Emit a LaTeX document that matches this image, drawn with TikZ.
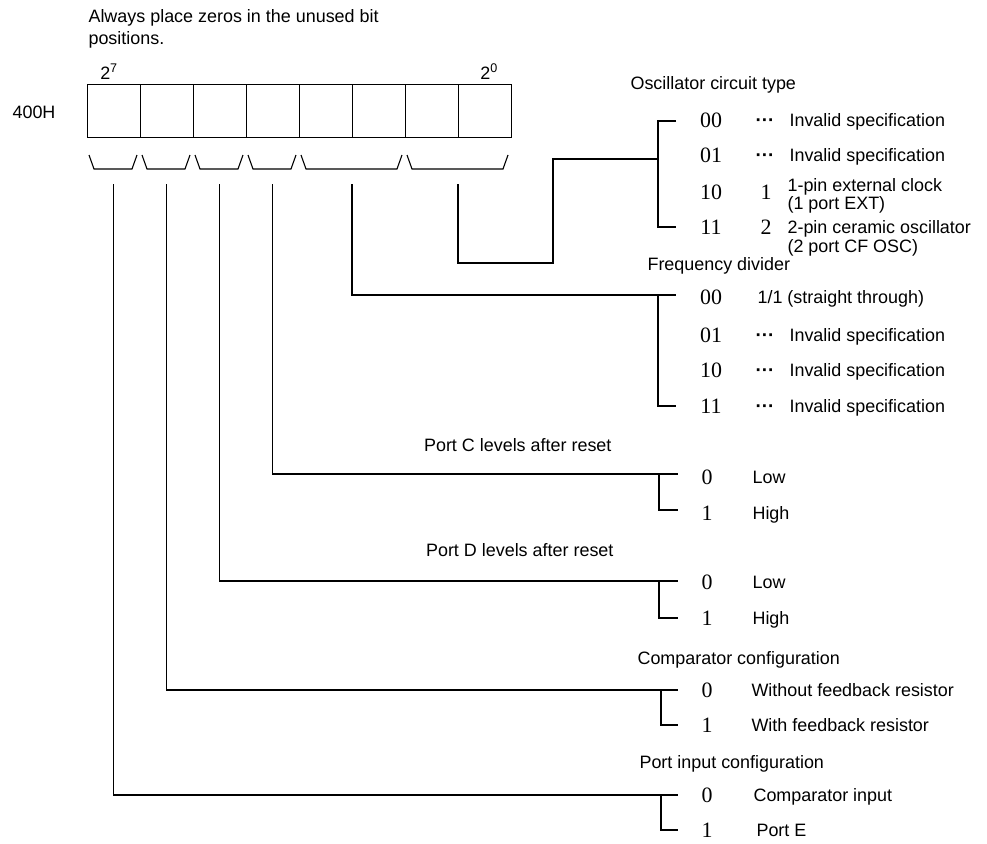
\documentclass[tikz,border=0pt]{standalone}
\usepackage{fontspec}
\setmainfont{Liberation Sans}
\newfontfamily\digf{Liberation Serif}
\usetikzlibrary{calc}
\begin{document}
\begin{tikzpicture}[x=1bp,y=-1bp, line width=1.1bp,
  txt/.style={inner sep=0pt, anchor=base west, font=\fontsize{18}{20}\selectfont},
  dig/.style={inner sep=0pt, anchor=base, font=\digf\fontsize{22}{24}\selectfont},
  dots/.style={inner sep=0pt, anchor=base, font=\bfseries\fontsize{19}{20}\selectfont},
  cell/.style={draw, minimum width=53bp, minimum height=53bp, inner sep=0pt, anchor=north west}]
\useasboundingbox (0,0) rectangle (987,844);

% heading text
\node[txt] (note1) at (88,22) {Always place zeros in the unused bit};
\node[txt] (note2) at (88,44) {positions.};
\node[txt, anchor=base] (p7) at (109,79) {2\textsuperscript{7}};
\node[txt, anchor=base] (p0) at (489,79) {2\textsuperscript{0}};
\node[txt, anchor=base] (addr) at (34,118) {400H};

% register cells
\foreach \i/\x in {7/87,6/140,5/193,4/246,3/299,2/352,1/405,0/458}
  \node[cell] (c\i) at (\x,84) {};

% braces under the bits
\foreach \n/\l/\r in {1/87/140,2/140/193,3/193/246,4/246/299,5/299/405,6/405/511}{
  \draw ($(\l,155)+(2,0)$) -- ($(\l,169)+(7,0)$) -- ($(\r,169)+(-8,0)$) -- ($(\r,155)+(-3,0)$);
  \coordinate (v\n) at ({(\l+\r)/2},184);
}

% ---- Oscillator circuit type
\node[txt] (hosc) at (630,89) {Oscillator circuit type};
\coordinate (jog6) at (553,263);
\coordinate (oscj) at (658,159);
\coordinate (osct) at (676,121);
\coordinate (oscb) at (658,227);
\draw (v6) |- (jog6) |- (oscj);
\draw (osct) -| (oscb) -- ++(18,0);
\node[dig] (o00) at (711,127) {00};
\node[dots] (od0) at (765,126) {···};
\node[txt] (ot0) at (789,126) {Invalid specification};
\node[dig] (o01) at (711,162) {01};
\node[dots] (od1) at (765,161) {···};
\node[txt] (ot1) at (789,161) {Invalid specification};
\node[dig] (o10) at (711,199) {10};
\node[dig] (on1) at (766,199) {1};
\node[txt] (ot2) at (787,191) {1-pin external clock};
\node[txt] (ot2b) at (787,209) {(1 port EXT)};
\node[dig] (o11) at (711,234) {11};
\node[dig] (on2) at (766,234) {2};
\node[txt] (ot3) at (787,233) {2-pin ceramic oscillator};
\node[txt] (ot3b) at (787,252) {(2 port CF OSC)};

% ---- Frequency divider
\node[txt] (hfreq) at (647,270) {Frequency divider};
\coordinate (frt) at (676,295);
\coordinate (frk) at (658,295);
\coordinate (frb) at (658,406);
\draw (v5) |- (frt);
\draw (frk) -- (frb) -- ++(18,0);
\node[dig] (f00) at (711,304) {00};
\node[txt] (ft0) at (757,303) {1/1 (straight through)};
\node[dig] (f01) at (711,342) {01};
\node[dots] (fd1) at (765,341) {···};
\node[txt] (ft1) at (789,341) {Invalid specification};
\node[dig] (f10) at (711,377) {10};
\node[dots] (fd2) at (765,376) {···};
\node[txt] (ft2) at (789,376) {Invalid specification};
\node[dig] (f11) at (711,413) {11};
\node[dots] (fd3) at (765,412) {···};
\node[txt] (ft3) at (789,412) {Invalid specification};

% ---- Port C
\node[txt, anchor=base east] (hpc) at (612,451) {Port C levels after reset};
\coordinate (pct) at (678,474);
\coordinate (pck) at (659,474);
\coordinate (pcb) at (659,510);
\draw (v4) |- (pct);
\draw (pck) -- (pcb) -- ++(19,0);
\node[dig] (pc0) at (707,484) {0};
\node[txt] (pcl) at (752,483) {Low};
\node[dig] (pc1) at (707,520) {1};
\node[txt] (pch) at (752,519) {High};

% ---- Port D
\node[txt, anchor=base east] (hpd) at (614,556) {Port D levels after reset};
\coordinate (pdt) at (678,581);
\coordinate (pdk) at (659,581);
\coordinate (pdb) at (659,618);
\draw (v3) |- (pdt);
\draw (pdk) -- (pdb) -- ++(19,0);
\node[dig] (pd0) at (707,589) {0};
\node[txt] (pdl) at (752,588) {Low};
\node[dig] (pd1) at (707,625) {1};
\node[txt] (pdh) at (752,624) {High};

% ---- Comparator configuration
\node[txt] (hcmp) at (637,664) {Comparator configuration};
\coordinate (cmt) at (678,690);
\coordinate (cmk) at (661,690);
\coordinate (cmb) at (661,725);
\draw (v2) |- (cmt);
\draw (cmk) -- (cmb) -- ++(17,0);
\node[dig] (cm0) at (707,697) {0};
\node[txt] (cmw) at (751,696) {Without feedback resistor};
\node[dig] (cm1) at (707,732) {1};
\node[txt] (cmf) at (751,731) {With feedback resistor};

% ---- Port input configuration
\node[txt] (hpin) at (639,768) {Port input configuration};
\coordinate (pit) at (678,795);
\coordinate (pik) at (661,795);
\coordinate (pib) at (661,830);
\draw (v1) |- (pit);
\draw (pik) -- (pib) -- ++(17,0);
\node[dig] (pi0) at (707,802) {0};
\node[txt] (pic) at (753,801) {Comparator input};
\node[dig] (pi1) at (707,837) {1};
\node[txt] (pie) at (756,836) {Port E};
\end{tikzpicture}
\end{document}
